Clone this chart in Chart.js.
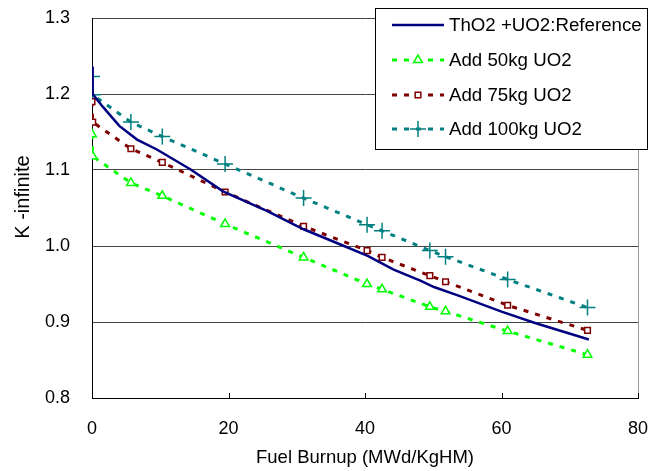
<!DOCTYPE html>
<html>
<head>
<meta charset="utf-8">
<script src="https://cdn.jsdelivr.net/npm/chart.js@4/dist/chart.umd.min.js"></script>
<style>
  html, body { margin: 0; padding: 0; background: #fff; }
  #wrap { width: 655px; height: 471px; }
</style>
</head>
<body>
<div id="wrap"><canvas id="kinf"></canvas></div>
<script>
// burnup steps (MWd/KgHM)
var burnup = [0, 0.1, 5.7, 10.3, 19.5, 31.0, 40.3, 42.5, 49.5, 51.8, 60.9, 72.6];
var burnupRef = [0, 0.1, 1.6, 4.0, 6.6, 9.5, 14.4, 19.2, 25.7, 31.0, 36.4, 40.4, 44.2, 48.2, 50.1, 53.6, 59.9, 64.8, 72.8];

var kRef = [1.236, 1.200, 1.183, 1.158, 1.140, 1.127, 1.101, 1.072, 1.046, 1.022, 1.002, 0.987, 0.969, 0.954, 0.946, 0.935, 0.914, 0.899, 0.877];
var kAdd50 = [1.147, 1.118, 1.083, 1.066, 1.029, 0.985, 0.950, 0.943, 0.920, 0.914, 0.888, 0.857];
var kAdd75 = [1.190, 1.163, 1.128, 1.110, 1.071, 1.026, 0.994, 0.985, 0.961, 0.953, 0.922, 0.889];
var kAdd100 = [1.223, 1.199, 1.163, 1.144, 1.108, 1.063, 1.028, 1.020, 0.994, 0.986, 0.956, 0.919];

var seriesNames = ['ThO2 +UO2:Reference', 'Add 50kg UO2', 'Add 75kg UO2', 'Add 100kg UO2'];
var xTicks = [0, 20, 40, 60, 80];
var yTitle = 'K -infinite';

const toPoints = (xs, ys) => xs.map((x, i) => ({ x: x, y: ys[i] }));

const FONT = '"Liberation Sans", Arial, sans-serif';

// legend box, y title, inward ticks, right border
const extras = {
    id: 'extras',
    afterDraw(chart) {
        const ctx = chart.ctx;
        const area = chart.chartArea;
        const xs = chart.scales.x;
        ctx.save();
        // right border
        ctx.strokeStyle = '#999';
        ctx.lineWidth = 1;
        ctx.beginPath();
        ctx.moveTo(area.right + 0.5, area.top);
        ctx.lineTo(area.right + 0.5, area.bottom);
        ctx.stroke();
        // inward x ticks
        ctx.strokeStyle = '#000';
        xTicks.forEach(v => {
            const px = Math.round(xs.getPixelForValue(v)) + 0.5;
            ctx.beginPath();
            ctx.moveTo(px, area.bottom);
            ctx.lineTo(px, area.bottom - 5);
            ctx.stroke();
        });

        // y title
        ctx.save();
        ctx.translate(23, 197);
        ctx.rotate(-Math.PI / 2);
        ctx.font = '20px ' + FONT;
        ctx.fillStyle = '#000';
        ctx.textAlign = 'center';
        ctx.textBaseline = 'middle';
        ctx.fillText(yTitle, 0, 0);
        ctx.restore();

        // legend
        const bx = 375, by = 8, bw = 272, bh = 141;
        ctx.fillStyle = '#fff';
        ctx.fillRect(bx, by, bw, bh);
        ctx.strokeStyle = '#000';
        ctx.lineWidth = 1;
        ctx.strokeRect(bx + 0.5, by + 0.5, bw, bh);
        const rows = [25, 60, 95, 129];
        ctx.font = '18.7px ' + FONT;
        ctx.textBaseline = 'middle';
        chart.data.datasets.forEach((ds, i) => {
            const y = rows[i];
            ctx.save();
            ctx.strokeStyle = ds.borderColor;
            ctx.lineWidth = ds.borderWidth;
            ctx.setLineDash(ds.borderDash || []);
            ctx.beginPath();
            ctx.moveTo(392, y);
            ctx.lineTo(444, y);
            ctx.stroke();
            ctx.restore();
            if (ds.pointRadius > 0) {
                ctx.save();
                ctx.fillStyle = '#fff';
                ctx.strokeStyle = ds.pointBorderColor;
                ctx.lineWidth = ds.pointBorderWidth;
                Chart.helpers.drawPoint(ctx, {
                    pointStyle: ds.pointStyle,
                    radius: ds.pointRadius,
                    rotation: 0,
                    borderWidth: ds.pointBorderWidth
                }, 418, y);
                ctx.restore();
            }
            ctx.fillStyle = '#000';
            ctx.fillText(seriesNames[i], 449, y + 1);
        });
        ctx.restore();
    }
};

try {
    var ctx = document.getElementById('kinf');
    var myChart = new Chart(ctx, {
        type: 'line',
        data: {
            datasets: [
                {
                    label: seriesNames[0],
                    data: toPoints(burnupRef, kRef),
                    borderColor: '#000080',
                    borderWidth: 2.5,
                    pointRadius: 0,
                    fill: false
                },
                {
                    label: seriesNames[1],
                    data: toPoints(burnup, kAdd50),
                    borderColor: '#00ff00',
                    borderWidth: 3,
                    borderDash: [5, 7],
                    pointStyle: 'triangle',
                    pointRadius: 5,
                    pointBorderWidth: 1.5,
                    pointBorderColor: '#00ff00',
                    pointBackgroundColor: '#fff',
                    fill: false
                },
                {
                    label: seriesNames[2],
                    data: toPoints(burnup, kAdd75),
                    borderColor: '#800000',
                    borderWidth: 3,
                    borderDash: [5, 7],
                    pointStyle: 'rect',
                    pointRadius: 4,
                    pointBorderWidth: 1.5,
                    pointBorderColor: '#800000',
                    pointBackgroundColor: '#fff',
                    fill: false
                },
                {
                    label: seriesNames[3],
                    data: toPoints(burnup, kAdd100),
                    borderColor: '#008080',
                    borderWidth: 3,
                    borderDash: [5, 7],
                    pointStyle: 'cross',
                    pointRadius: 8,
                    pointBorderWidth: 1.5,
                    pointBorderColor: '#008080',
                    pointBackgroundColor: '#008080',
                    fill: false
                }
            ]
        },
        options: {
            responsive: true,
            maintainAspectRatio: false,
            animation: false,
            layout: { padding: { top: 18, right: 17, left: 0, bottom: 0 } },
            plugins: {
                legend: { display: false },
                tooltip: { enabled: false }
            },
            scales: {
                x: {
                    type: 'linear',
                    min: 0,
                    max: 80,
                    afterFit: s => {
                        s.height = 73;
                        s.paddingLeft = 0;
                        s.paddingRight = 0;
                    },
                    ticks: { stepSize: 20, color: '#000', padding: 20, font: { family: FONT, size: 18 } },
                    grid: { drawOnChartArea: false, drawTicks: false },
                    border: { color: '#000', width: 1 },
                    title: {
                        display: true,
                        text: 'Fuel Burnup (MWd/KgHM)',
                        color: '#000',
                        font: { family: FONT, size: 18.5 },
                        padding: { top: 0, bottom: 2 }
                    }
                },
                y: {
                    min: 0.8,
                    max: 1.3,
                    afterFit: s => {
                        s.width = 92;
                        s.paddingTop = 0;
                        s.paddingBottom = 0;
                    },
                    ticks: {
                        stepSize: 0.1,
                        color: '#000',
                        padding: 22,
                        font: { family: FONT, size: 18 },
                        callback: v => v.toFixed(1)
                    },
                    grid: { color: '#444', drawTicks: false },
                    border: { color: '#000', width: 1 }
                }
            }
        },
        plugins: [extras]
    });
} catch (error) {
    console.log(error);
}
</script>
</body>
</html>
